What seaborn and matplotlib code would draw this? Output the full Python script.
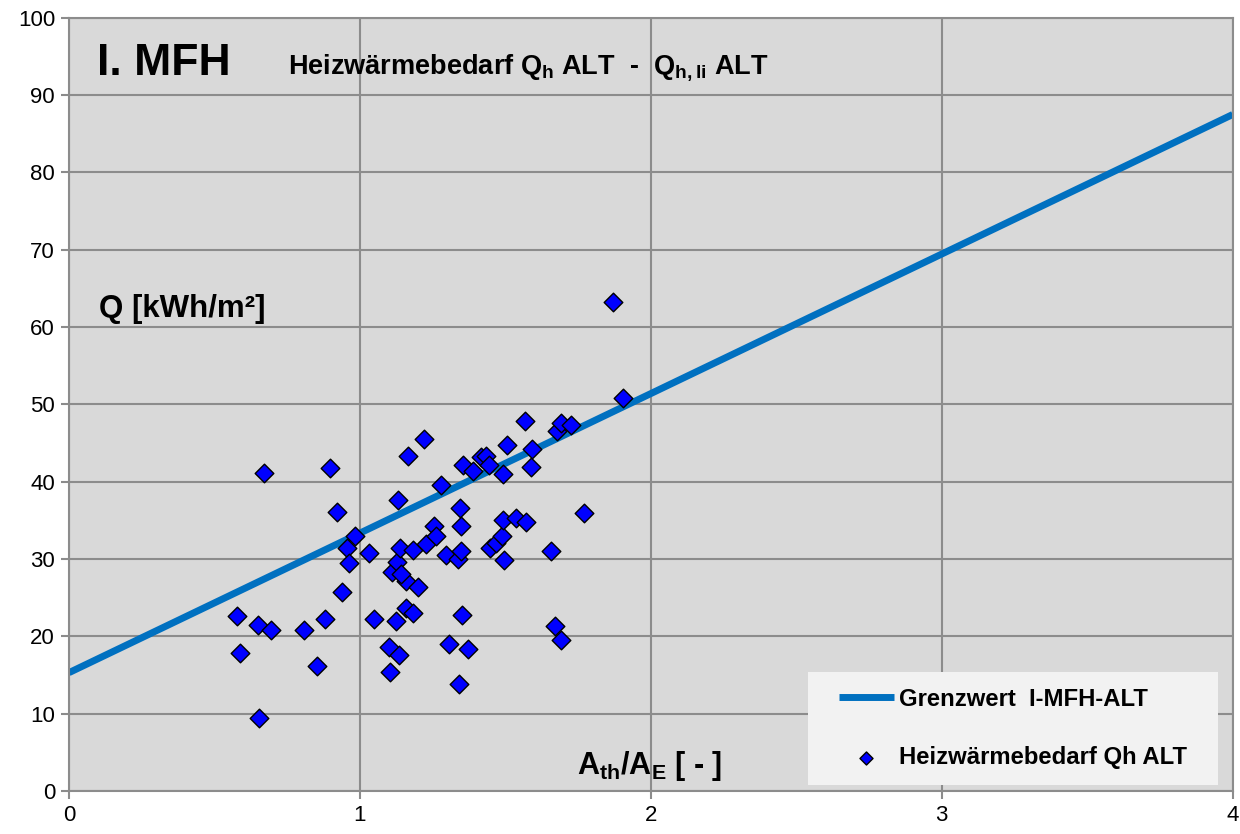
import matplotlib
matplotlib.use("Agg")
import matplotlib.pyplot as plt
import seaborn as sns
import pandas as pd
from matplotlib.patches import Rectangle

# ---------------- data ----------------
line_x = [0.0, 4.0]
line_y = [15.3, 87.5]

ath_ae = [1.870, 1.903, 0.576, 0.588, 0.651, 0.695, 0.652, 0.671, 0.809, 0.853,
          0.881, 0.898, 0.923, 0.940, 0.957, 0.962, 0.983, 1.032, 1.048, 1.101,
          1.104, 1.111, 1.126, 1.130, 1.137, 1.134, 1.123, 1.157, 1.157, 1.165,
          1.183, 1.183, 1.200, 1.220, 1.227, 1.255, 1.263, 1.278, 1.296, 1.307,
          1.336, 1.340, 1.344, 1.347, 1.349, 1.351, 1.355, 1.372, 1.390, 1.418,
          1.435, 1.444, 1.447, 1.467, 1.487, 1.493, 1.493, 1.495, 1.507, 1.535,
          1.570, 1.568, 1.587, 1.590, 1.656, 1.676, 1.670, 1.690, 1.693, 1.725,
          1.770, 1.143]
q_h = [63.2, 50.8, 22.6, 17.9, 21.5, 20.8, 9.4, 41.1, 20.8, 16.2,
       22.3, 41.8, 36.1, 25.8, 31.4, 29.5, 33.0, 30.8, 22.3, 18.6,
       15.4, 28.3, 29.6, 37.6, 31.4, 17.6, 22.0, 27.1, 23.7, 43.3,
       23.0, 31.2, 26.4, 45.5, 31.9, 34.3, 33.0, 39.6, 30.5, 19.0,
       30.0, 13.9, 36.6, 34.3, 31.1, 22.7, 42.2, 18.4, 41.4, 43.2,
       43.3, 42.2, 31.4, 32.1, 33.0, 35.1, 41.0, 29.9, 44.8, 35.3,
       34.8, 47.9, 41.9, 44.2, 31.1, 46.5, 21.3, 19.5, 47.6, 47.4,
       35.9, 28.1]

line_label = "Grenzwert  I-MFH-ALT"
scatter_label = "Heizwärmebedarf Qh ALT"
x_ticks = [0, 1, 2, 3, 4]
y_ticks = list(range(0, 101, 10))

# ---------------- style ----------------
sns.set_theme(style="whitegrid", rc={
    "axes.facecolor": "#d9d9d9",
    "figure.facecolor": "white",
    "grid.color": "#8c8c8c",
    "grid.linewidth": 1.5,
    "axes.edgecolor": "#8c8c8c",
    "axes.linewidth": 1.5,
    "text.color": "black",
    "axes.labelcolor": "black",
    "xtick.labelcolor": "black",
    "ytick.labelcolor": "black",
})
plt.rcParams['font.family'] = ['Liberation Sans', 'DejaVu Sans']
plt.rcParams['mathtext.fontset'] = 'custom'
plt.rcParams['mathtext.rm'] = 'Liberation Sans'
plt.rcParams['mathtext.bf'] = 'Liberation Sans:bold'
plt.rcParams['mathtext.default'] = 'bf'

fig = plt.figure(figsize=(12.4, 8.34), dpi=100)
ax = fig.add_axes([0.0556, 0.0516, 0.9385, 0.927])

df_line = pd.DataFrame({"x": line_x, "y": line_y})
df_pts = pd.DataFrame({"x": ath_ae, "y": q_h})

sns.lineplot(data=df_line, x="x", y="y", ax=ax, color="#0070c0", linewidth=5,
             label=line_label, solid_capstyle="butt", zorder=2)
sns.scatterplot(data=df_pts, x="x", y="y", ax=ax, marker="D", s=90,
                color="#0000ff", edgecolor="black", linewidth=1.0,
                label=scatter_label, zorder=3)

ax.set_xlim(0, 4)
ax.set_ylim(0, 100)
ax.set_xticks(x_ticks)
ax.set_yticks(y_ticks)
ax.tick_params(axis="both", labelsize=16, colors="#8c8c8c", labelcolor="black",
               length=6, width=1.5, direction="out", left=True, bottom=True, pad=4)
ax.set_xlabel("")
ax.set_ylabel("")
for s in ax.spines.values():
    s.set_color("#8c8c8c")

# texts
ax.text(0.024, 0.926, "I. MFH", transform=ax.transAxes, fontsize=32,
        fontweight="bold", va="baseline", color="black")
ax.text(0.188, 0.928, r"Heizwärmebedarf Q$_\mathbf{h}$ ALT  -  Q$_\mathbf{h,li}$ ALT",
        transform=ax.transAxes, fontsize=19.5, fontweight="bold", va="baseline",
        color="black")
ax.text(0.026, 0.613, "Q [kWh/m²]", transform=ax.transAxes, fontsize=22.5,
        fontweight="bold", va="baseline", color="black")
ax.text(0.437, 0.022, r"A$_\mathbf{th}$/A$_\mathbf{E}$ [ - ]", transform=ax.transAxes,
        fontsize=22, fontweight="bold", va="baseline", color="black")

# legend background box
ax.add_patch(Rectangle((0.635, 0.0078), 0.352, 0.146, transform=ax.transAxes,
                       facecolor="#f2f2f2", edgecolor="none", zorder=4))
leg = ax.legend(loc="center", bbox_to_anchor=(0.811, 0.0809), frameon=False,
                prop={"size": 17.2, "weight": "bold"}, borderpad=0,
                borderaxespad=0, labelspacing=1.49, handlelength=2.3,
                handletextpad=0.2, markerscale=0.7)
leg.set_zorder(5)
for t in leg.get_texts():
    t.set_color("black")

fig.savefig("out.png", dpi=100)
